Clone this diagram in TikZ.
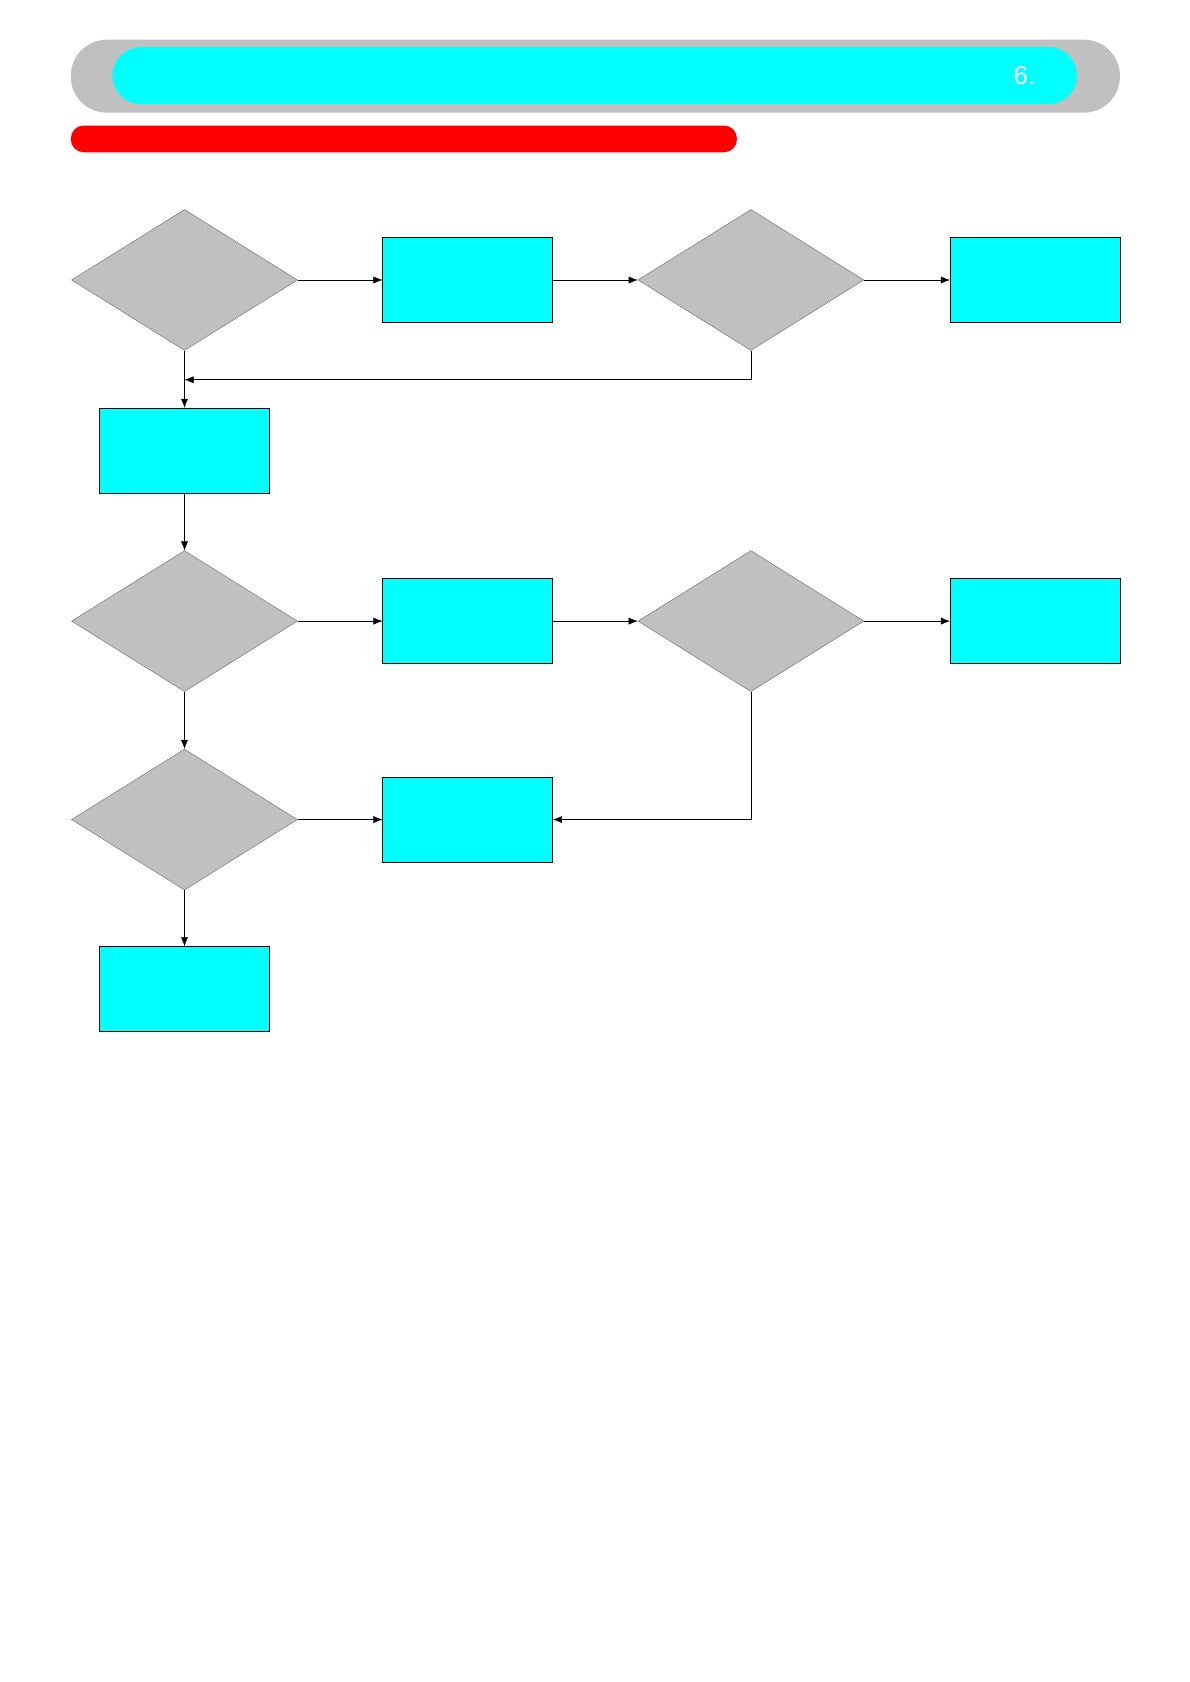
\documentclass[tikz,border=0pt]{standalone}
\usepackage{fontspec}
\setmainfont{Liberation Sans}
\usetikzlibrary{shapes.geometric,arrows.meta}
\definecolor{aqua}{RGB}{0,255,255}
\definecolor{gr}{RGB}{192,192,192}
\begin{document}
\begin{tikzpicture}[x=1.073pt,y=-1.073pt,
 dia/.style={diamond,draw=black!60,line width=0.4pt,fill=gr,minimum width=226pt,minimum height=141pt,inner sep=0pt,aspect=1.6},
 box/.style={draw,fill=aqua,minimum width=170pt,minimum height=85pt,inner sep=0pt,line width=0.5pt},
 arr/.style={-{Latex[length=9pt,width=7pt]},line width=0.5pt}]
\useasboundingbox (0,0) rectangle (1109,1568);
\fill[gr,rounded corners=36pt] (66,37) rectangle (1044,105);
\fill[aqua,rounded corners=28pt] (105,44) rectangle (1004,97);
\node[text=white,font=\fontsize{26}{30}\selectfont] (num) at (955,70) {6.};
\fill[red,rounded corners=13pt] (66,117) rectangle (687,142);
\node[dia] (d1) at (172,261) {};
\node[dia] (d2) at (700,261) {};
\node[dia] (d3) at (172,579) {};
\node[dia] (d4) at (700,579) {};
\node[dia] (d5) at (172,764) {};
\node[box] (b1) at (436,261) {};
\node[box] (b2) at (965,261) {};
\node[box] (b3) at (172,420) {};
\node[box] (b4) at (436,579) {};
\node[box] (b5) at (965,579) {};
\node[box] (b6) at (436,764) {};
\node[box] (b7) at (172,922) {};
\coordinate (j1) at (172,354);
\draw[arr] (d1.east) -- (b1.west);
\draw[arr] (b1.east) -- (d2.west);
\draw[arr] (d2.east) -- (b2.west);
\draw[arr] (d2.south) |- (j1);
\draw[arr] (d1.south) -- (b3.north);
\draw[arr] (b3.south) -- (d3.north);
\draw[arr] (d3.east) -- (b4.west);
\draw[arr] (b4.east) -- (d4.west);
\draw[arr] (d4.east) -- (b5.west);
\draw[arr] (d3.south) -- (d5.north);
\draw[arr] (d5.east) -- (b6.west);
\draw[arr] (d4.south) |- (b6.east);
\draw[arr] (d5.south) -- (b7.north);
\end{tikzpicture}
\end{document}
